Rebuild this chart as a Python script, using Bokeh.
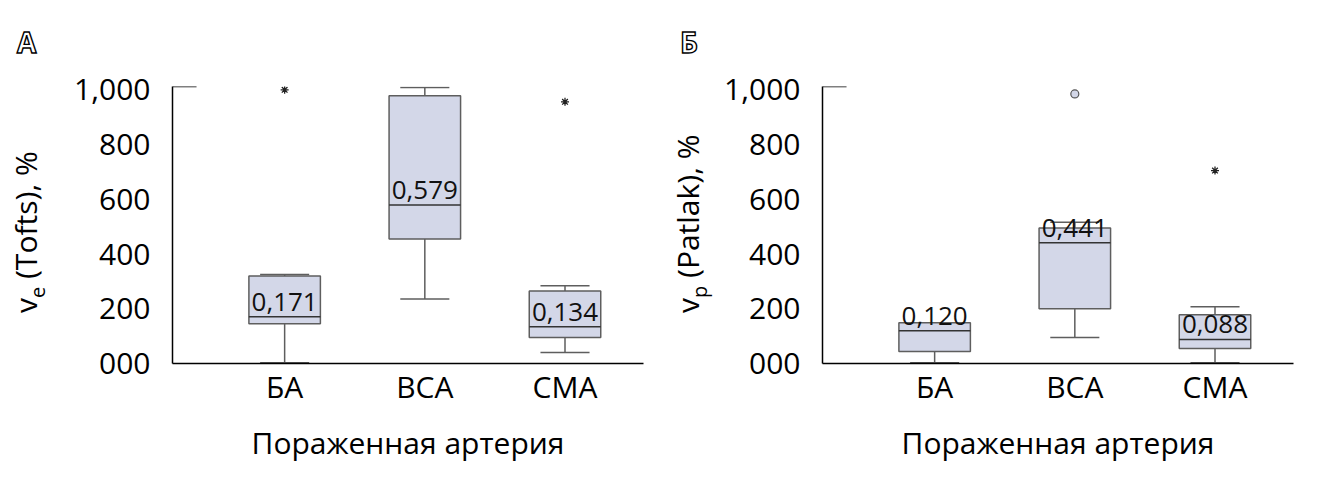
from bokeh.plotting import figure
from bokeh.models import Range1d, FixedTicker, ColumnDataSource, Div
from bokeh.layouts import row
from bokeh.core.properties import value
from bokeh.embed import file_html
from bokeh.resources import INLINE

FONT = "Open Sans"

# ---------------- data ----------------
categories = ["БА", "ВСА", "СМА"]
y_ticks = [0, 200, 400, 600, 800, 1000]
y_tick_labels = ["000", "200", "400", "600", "800", "1,000"]
x_title = "Пораженная артерия"

# Panel A: v_e (Tofts)
a_lower = [3, 236, 40]
a_q1 = [145, 455, 95]
a_median = [171, 579, 134]
a_q3 = [320, 978, 265]
a_upper = [325, 1008, 284]
a_median_labels = ["0,171", "0,579", "0,134"]
a_out_cat = ["БА", "СМА"]
a_out_val = [1000, 956]
a_out_kind = ["asterisk", "asterisk"]

# Panel B: v_p (Patlak)
b_lower = [3, 95, 3]
b_q1 = [44, 200, 55]
b_median = [120, 441, 88]
b_q3 = [149, 495, 178]
b_upper = [149, 516, 207]
b_median_labels = ["0,120", "0,441", "0,088"]
b_out_cat = ["ВСА", "СМА"]
b_out_val = [985, 705]
b_out_kind = ["circle", "asterisk"]

BOX_FILL = "#d3d7e8"
BOX_LINE = "#5e5e5e"
H = 470          # figure height
TW = 64          # width of the title strip


def title_strip(letter, main, sub, rest, title_left, letter_left):
    html = (
        f'<div style="position:relative;width:{TW}px;height:{H}px;font-family:\'{FONT}\';">'
        f'<div style="position:absolute;left:{letter_left}px;top:28px;font-size:28px;'
        f'font-weight:bold;line-height:1;color:white;-webkit-text-stroke:1.4px black;">{letter}</div>'
        f'<div style="position:absolute;left:{title_left}px;top:313px;font-size:30px;line-height:1;'
        f'white-space:nowrap;color:black;transform:rotate(-90deg);transform-origin:left top;">'
        f'{main}<span style="font-size:20px;position:relative;top:8px;">{sub}</span>{rest}</div>'
        f'</div>'
    )
    return Div(text=html, width=TW, height=H, margin=0)


def panel(lower, q1, med, q3, upper, med_labels, out_cat, out_val, out_kind, right_border):
    p = figure(frame_width=471, frame_height=277, min_border_left=172 - TW,
               min_border_right=right_border, min_border_top=86, min_border_bottom=H - 86 - 277,
               x_range=Range1d(0.2, 3.56), y_range=Range1d(0, 1012),
               output_backend="svg", toolbar_location=None)
    p.outline_line_color = None
    p.grid.visible = False

    xs = [i + 1 for i in range(len(categories))]
    bw = 0.51
    cw = 0.175
    src = ColumnDataSource(dict(
        x=xs, lower=lower, q1=q1, med=med, q3=q3, upper=upper, lab=med_labels,
        cl=[x - cw for x in xs], cr=[x + cw for x in xs],
        ml=[x - bw / 2 for x in xs], mr=[x + bw / 2 for x in xs]))

    # whiskers
    p.segment(x0="x", y0="q3", x1="x", y1="upper", source=src, line_color=BOX_LINE, line_width=1.5)
    p.segment(x0="x", y0="q1", x1="x", y1="lower", source=src, line_color=BOX_LINE, line_width=1.5)
    p.segment(x0="cl", y0="upper", x1="cr", y1="upper", source=src, line_color=BOX_LINE, line_width=1.5)
    p.segment(x0="cl", y0="lower", x1="cr", y1="lower", source=src, line_color=BOX_LINE, line_width=1.5)
    # boxes
    p.vbar(x="x", width=bw, bottom="q1", top="q3", source=src,
           fill_color=BOX_FILL, line_color=BOX_LINE, line_width=1.5)
    # medians
    p.segment(x0="ml", y0="med", x1="mr", y1="med", source=src, line_color="#333333", line_width=1.5)
    p.text(x="x", y="med", text="lab", source=src, text_font=value(FONT),
           text_font_size="26px", text_align="center", text_baseline="alphabetic",
           y_offset=-15, text_color="#111111")

    # outliers
    ox = [categories.index(c) + 1 for c in out_cat]
    ast_x = [x for x, k in zip(ox, out_kind) if k == "asterisk"]
    ast_y = [y for y, k in zip(out_val, out_kind) if k == "asterisk"]
    cir_x = [x for x, k in zip(ox, out_kind) if k == "circle"]
    cir_y = [y for y, k in zip(out_val, out_kind) if k == "circle"]
    if ast_x:
        p.scatter(ast_x, ast_y, marker="asterisk", size=8, line_color="#222222", line_width=1.3)
    if cir_x:
        p.scatter(cir_x, cir_y, marker="circle", size=8, fill_color=BOX_FILL,
                  line_color="#555555", line_width=1.2)

    # top stub of the left spine
    p.segment(x0=[0.2], y0=[1012], x1=[0.2 + 24 / 140], y1=[1012], line_color="black", line_width=1.5)

    # axes
    p.xaxis.ticker = FixedTicker(ticks=xs)
    p.xaxis.major_label_overrides = {x: c for x, c in zip(xs, categories)}
    p.yaxis.ticker = FixedTicker(ticks=y_ticks)
    p.yaxis.major_label_overrides = {t: l for t, l in zip(y_ticks, y_tick_labels)}
    for ax in (p.xaxis[0], p.yaxis[0]):
        ax.axis_line_color = "black"
        ax.axis_line_width = 1.5
        ax.major_tick_line_color = None
        ax.minor_tick_line_color = None
        ax.major_tick_out = 0
        ax.major_tick_in = 0
        ax.major_label_text_font = FONT
        ax.major_label_text_color = "black"
    p.yaxis.major_label_text_font_size = "30px"
    p.xaxis.major_label_text_font_size = "30px"
    p.yaxis.major_label_standoff = 22
    p.xaxis.major_label_standoff = 2
    p.xaxis.axis_label = x_title
    p.xaxis.axis_label_text_font = FONT
    p.xaxis.axis_label_text_font_size = "30px"
    p.xaxis.axis_label_text_font_style = "normal"
    p.xaxis.axis_label_text_color = "black"
    p.xaxis.axis_label_standoff = 12
    return p


ta = title_strip("А", "v", "e", " (Tofts), %", 11, 17)
pa = panel(a_lower, a_q1, a_median, a_q3, a_upper, a_median_labels,
           a_out_cat, a_out_val, a_out_kind, 7)
tb = title_strip("Б", "v", "p", " (Patlak), %", 23, 30)
pb = panel(b_lower, b_q1, b_median, b_q3, b_upper, b_median_labels,
           b_out_cat, b_out_val, b_out_kind, 10)

layout = row(ta, pa, tb, pb, spacing=0)
open("out.html", "w").write(file_html(layout, INLINE))
